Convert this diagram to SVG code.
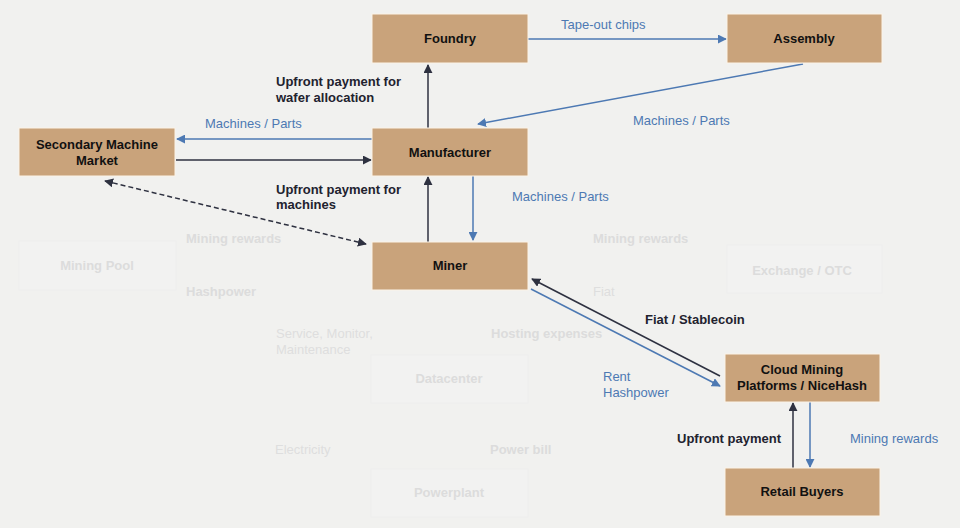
<svg xmlns="http://www.w3.org/2000/svg" width="960" height="528" viewBox="0 0 960 528">
<style>
.node rect{fill:#c9a37b;stroke:#fbf3e8;stroke-width:1}
.node text{font-family:"Liberation Sans",Arial,sans-serif;font-weight:bold;font-size:13px;fill:#111;text-anchor:middle}
.ghost rect{fill:#f2f2f1;stroke:#eeeeed;stroke-width:1}
.ghost text{font-family:"Liberation Sans",Arial,sans-serif;font-weight:bold;font-size:13px;fill:#dcdcdc;text-anchor:middle}
.lbl{font-family:"Liberation Sans",Arial,sans-serif;font-size:13px}
.blue{fill:#4d79b3}
.dark{fill:#22222e;font-weight:bold}
.faint{fill:#dedede}
.faintb{fill:#dcdcdc;font-weight:bold}
.cb{stroke:#4d79b3;stroke-width:1.5;fill:none}
.cd{stroke:#2e3140;stroke-width:1.5;fill:none}
</style>
<defs>
<marker id="ab" viewBox="0 0 10 10" refX="9" refY="5" markerWidth="9" markerHeight="9" markerUnits="userSpaceOnUse" orient="auto"><path d="M0,0L10,5L0,10z" fill="#4d79b3"/></marker>
<marker id="ad" viewBox="0 0 10 10" refX="9" refY="5" markerWidth="9" markerHeight="9" markerUnits="userSpaceOnUse" orient="auto"><path d="M0,0L10,5L0,10z" fill="#2e3140"/></marker>
<marker id="ads" viewBox="0 0 10 10" refX="1" refY="5" markerWidth="9" markerHeight="9" markerUnits="userSpaceOnUse" orient="auto"><path d="M10,0L0,5L10,10z" fill="#2e3140"/></marker>
</defs>
<rect width="960" height="528" fill="#f1f1ef"/>

<g id="ghosts">
<g id="mining-pool" class="ghost"><rect x="19" y="241" width="157" height="49"/><text x="97" y="270">Mining Pool</text></g>
<g id="exchange" class="ghost"><rect x="727" y="245" width="155" height="48"/><text x="802" y="275">Exchange / OTC</text></g>
<g id="datacenter" class="ghost"><rect x="371" y="355" width="157" height="48"/><text x="449" y="383">Datacenter</text></g>
<g id="powerplant" class="ghost"><rect x="371" y="469" width="157" height="48"/><text x="449" y="497">Powerplant</text></g>
</g>

<g id="connectors">
<line class="cd" x1="428" y1="128" x2="428" y2="65" marker-end="url(#ad)"/>
<line class="cb" x1="528" y1="39" x2="726" y2="39" marker-end="url(#ab)"/>
<line class="cb" x1="803" y1="64" x2="478" y2="124" marker-end="url(#ab)"/>
<line class="cb" x1="372" y1="139" x2="177" y2="139" marker-end="url(#ab)"/>
<line class="cd" x1="176" y1="160" x2="371" y2="160" marker-end="url(#ad)"/>
<line class="cd" x1="428" y1="242" x2="428" y2="177" marker-end="url(#ad)"/>
<line class="cb" x1="473" y1="176" x2="473" y2="240" marker-end="url(#ab)"/>
<line class="cd" x1="105" y1="181" x2="366" y2="244" stroke-dasharray="5,3" marker-start="url(#ads)" marker-end="url(#ad)"/>
<line class="cd" x1="720" y1="376" x2="532" y2="279" marker-end="url(#ad)"/>
<line class="cb" x1="531" y1="289" x2="720" y2="386" marker-end="url(#ab)"/>
<line class="cd" x1="793" y1="468" x2="793" y2="403" marker-end="url(#ad)"/>
<line class="cb" x1="810" y1="402" x2="810" y2="467" marker-end="url(#ab)"/>
</g>

<g id="foundry" class="node"><rect x="372" y="14" width="156" height="49"/><text x="450" y="43">Foundry</text></g>
<g id="assembly" class="node"><rect x="727" y="14" width="155" height="49"/><text x="804" y="43">Assembly</text></g>
<g id="manufacturer" class="node"><rect x="372" y="128" width="156" height="48"/><text x="450" y="157">Manufacturer</text></g>
<g id="secondary" class="node"><rect x="19" y="128" width="156" height="48"/><text x="97" y="149">Secondary Machine</text><text x="97" y="165">Market</text></g>
<g id="miner" class="node"><rect x="372" y="242" width="156" height="48"/><text x="450" y="270">Miner</text></g>
<g id="cloud" class="node"><rect x="725" y="354" width="155" height="48"/><text x="802" y="374">Cloud Mining</text><text x="802" y="390">Platforms / NiceHash</text></g>
<g id="retail" class="node"><rect x="725" y="468" width="155" height="48"/><text x="802" y="496">Retail Buyers</text></g>

<g id="labels">
<text class="lbl dark" x="276" y="86">Upfront payment for</text>
<text class="lbl dark" x="276" y="102">wafer allocation</text>
<text class="lbl blue" x="561" y="29">Tape-out chips</text>
<text class="lbl blue" x="205" y="128">Machines / Parts</text>
<text class="lbl blue" x="633" y="125">Machines / Parts</text>
<text class="lbl blue" x="512" y="201">Machines / Parts</text>
<text class="lbl dark" x="276" y="194">Upfront payment for</text>
<text class="lbl dark" x="276" y="209">machines</text>
<text class="lbl dark" x="645" y="324">Fiat / Stablecoin</text>
<text class="lbl blue" x="603" y="381">Rent</text>
<text class="lbl blue" x="603" y="397">Hashpower</text>
<text class="lbl dark" x="677" y="443">Upfront payment</text>
<text class="lbl blue" x="850" y="443">Mining rewards</text>
<text class="lbl faintb" x="186" y="243">Mining rewards</text>
<text class="lbl faintb" x="186" y="296">Hashpower</text>
<text class="lbl faint" x="276" y="338">Service, Monitor,</text>
<text class="lbl faint" x="276" y="354">Maintenance</text>
<text class="lbl faintb" x="593" y="243">Mining rewards</text>
<text class="lbl faint" x="593" y="296">Fiat</text>
<text class="lbl faintb" x="491" y="338">Hosting expenses</text>
<text class="lbl faint" x="275" y="454">Electricity</text>
<text class="lbl faintb" x="490" y="454">Power bill</text>
</g>
</svg>
